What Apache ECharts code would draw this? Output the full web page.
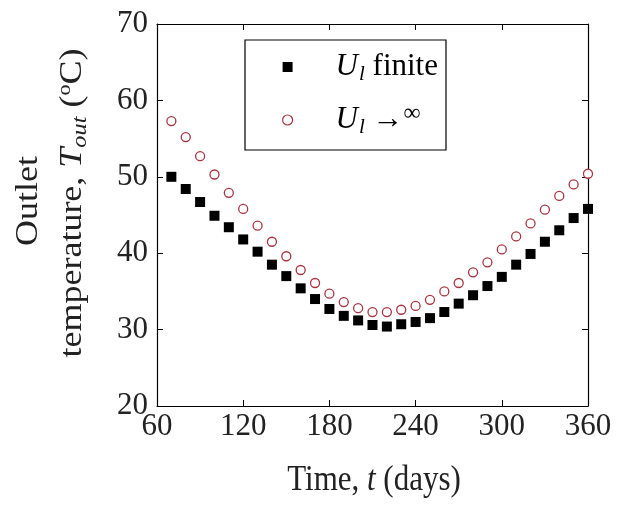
<!DOCTYPE html>
<html>
<head>
<meta charset="utf-8">
<script src="https://cdn.jsdelivr.net/npm/echarts@6/dist/echarts.min.js"></script>
<style>
  html, body { margin: 0; padding: 0; background: #fff; }
  #chart { width: 626px; height: 506px; }
</style>
</head>
<body>
<div id="chart"></div>
<script>
// time in days
const days = [70, 80, 90, 100, 110, 120, 130, 140, 150, 160, 170, 180, 190, 200, 210,
  220, 230, 240, 250, 260, 270, 280, 290, 300, 310, 320, 330, 340, 350, 360];
// U_l finite
const finiteT = [50.0, 48.4, 46.7, 44.9, 43.4, 41.8, 40.2, 38.5, 37.0, 35.4, 34.0, 32.7, 31.8, 31.2, 30.6,
  30.4, 30.7, 31.0, 31.5, 32.3, 33.4, 34.5, 35.7, 36.9, 38.5, 39.9, 41.5, 43.0, 44.6, 45.8];
// U_l -> infinity
const infiniteT = [57.3, 55.2, 52.7, 50.3, 47.9, 45.8, 43.6, 41.5, 39.6, 37.8, 36.1, 34.7, 33.6, 32.8, 32.3,
  32.3, 32.6, 33.1, 33.9, 35.0, 36.1, 37.5, 38.8, 40.5, 42.2, 43.9, 45.7, 47.5, 49.0, 50.4];

const serif = 'Liberation Serif';
const red = '#a8343f';
const chart = echarts.init(document.getElementById('chart'));

const pairs = (ys) => days.map((d, i) => [d, ys[i]]);

// legend rich text: U with subscript l
const rich = {
  u: { fontFamily: serif, fontStyle: 'italic', fontSize: 31, color: '#000', padding: [0, 0, 0, 38] },
  s: { fontFamily: serif, fontStyle: 'italic', fontSize: 21, color: '#000', verticalAlign: 'bottom', padding: [14, 0, 0, 1] },
  t: { fontFamily: serif, fontSize: 31, color: '#000' },
  o: { fontFamily: serif, fontSize: 24, color: '#000', verticalAlign: 'top', padding: [0, 0, 6, 0] }
};

const hiddenAxis = {
  axisLine: { show: true, lineStyle: { color: '#000', width: 1.2 } },
  axisTick: { show: true, inside: true, length: 6, lineStyle: { color: '#000' } },
  axisLabel: { show: false },
  splitLine: { show: false }
};

const option = {
  backgroundColor: '#fff',
  animation: false,
  grid: { left: 157, top: 24, width: 431, height: 382 },
  legend: {
    orient: 'vertical',
    left: 245,
    top: 40,
    itemWidth: 10,
    itemHeight: 10,
    itemGap: 17,
    padding: [9, 8, 12, 37],
    borderColor: '#000',
    borderWidth: 1.2,
    backgroundColor: '#fff',
    textStyle: { rich, lineHeight: 36 },
    formatter: (name) => name === 'finite'
      ? '{u|U}{s|l}{t| finite}'
      : '{u|U}{s|l}{t| →}{o|∞}',
    data: [
      { name: 'finite', icon: 'rect', itemStyle: { color: '#000', opacity: 1 } },
      { name: 'inf', icon: 'circle', itemStyle: { color: '#fff', borderColor: red, borderWidth: 1.2, opacity: 1 } }
    ]
  },
  xAxis: [
    {
      type: 'value', min: 60, max: 360, interval: 60,
      axisLine: { show: true, onZero: false, lineStyle: { color: '#000', width: 1.2 } },
      axisTick: { show: true, inside: true, length: 6, lineStyle: { color: '#000' } },
      axisLabel: { fontFamily: serif, fontSize: 31, color: '#222', margin: 5 },
      splitLine: { show: false }
    },
    Object.assign({ type: 'value', min: 60, max: 360, interval: 60, position: 'top' }, hiddenAxis)
  ],
  yAxis: [
    {
      type: 'value', min: 20, max: 70, interval: 10,
      axisLine: { show: true, onZero: false, lineStyle: { color: '#000', width: 1.2 } },
      axisTick: { show: true, inside: true, length: 6, lineStyle: { color: '#000' } },
      axisLabel: { fontFamily: serif, fontSize: 31, color: '#222', margin: 9 },
      splitLine: { show: false }
    },
    Object.assign({ type: 'value', min: 20, max: 70, interval: 10, position: 'right' }, hiddenAxis)
  ],
  graphic: [
    {
      type: 'text', x: 374, y: 481, scaleY: 1.15, silent: true,
      style: {
        text: '{t|Time, }{i|t}{t| (days)}',
        align: 'center', verticalAlign: 'middle',
        rich: {
          t: { fontFamily: serif, fontSize: 31, fill: '#222' },
          i: { fontFamily: serif, fontSize: 31, fontStyle: 'italic', fill: '#222' }
        }
      }
    },
    {
      type: 'text', x: 29, y: 201, rotation: Math.PI / 2, scaleX: 1.16, silent: true,
      style: { text: 'Outlet', font: '31px "Liberation Serif"', fill: '#222', align: 'center', verticalAlign: 'middle' }
    },
    {
      type: 'text', x: 73, y: 203, rotation: Math.PI / 2, scaleX: 1.16, silent: true,
      style: {
        text: '{t|temperature, }{i|T}{s|out}{t| (}{o|o}{t|C)}',
        align: 'center', verticalAlign: 'middle',
        rich: {
          t: { fontFamily: serif, fontSize: 31, fill: '#222' },
          i: { fontFamily: serif, fontSize: 31, fontStyle: 'italic', fill: '#222' },
          s: { fontFamily: serif, fontSize: 21, fontStyle: 'italic', fill: '#222', verticalAlign: 'bottom', padding: [14, 0, 0, 0] },
          o: { fontFamily: serif, fontSize: 19, fill: '#222', verticalAlign: 'top', padding: [0, 0, 12, 0] }
        }
      }
    }
  ],
  series: [
    {
      name: 'finite',
      type: 'scatter',
      symbol: 'rect',
      symbolSize: 10,
      itemStyle: { color: '#000', opacity: 1 },
      data: pairs(finiteT),
      z: 3
    },
    {
      name: 'inf',
      type: 'scatter',
      symbol: 'circle',
      symbolSize: 9,
      itemStyle: { color: '#fff', borderColor: red, borderWidth: 1.3, opacity: 1 },
      data: pairs(infiniteT),
      z: 4
    }
  ]
};

chart.setOption(option);
</script>
</body>
</html>
